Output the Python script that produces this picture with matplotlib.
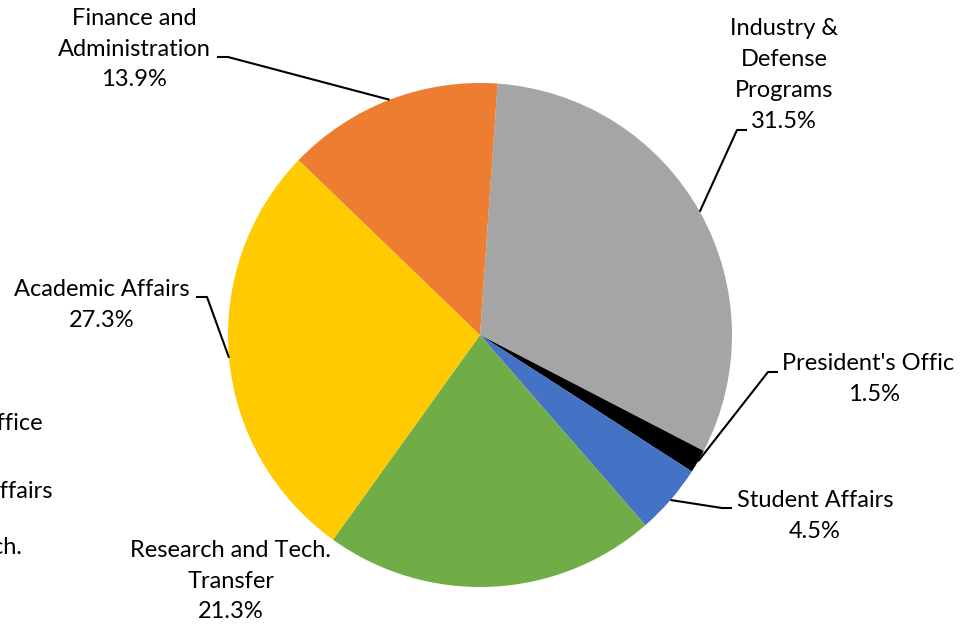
import numpy as np
import matplotlib
matplotlib.use("Agg")
import matplotlib.pyplot as plt
from matplotlib.transforms import Bbox

plt.rcParams['font.family'] = ['Lato', 'DejaVu Sans']

# slice data, clockwise from the top
labels = ["Industry &\nDefense\nPrograms", "President's Office", "Student Affairs",
          "Research and Tech.\nTransfer", "Academic Affairs", "Finance and\nAdministration"]
shares = [31.5, 1.5, 4.5, 21.3, 27.3, 13.9]
colors = ["#A5A5A5", "#000000", "#4472C4", "#70AD47", "#FFCA00", "#ED7D31"]

W, H = 975, 624
fig = plt.figure(figsize=(W / 100, H / 100), dpi=100)
ax = fig.add_axes([0, 0, 1, 1])

cx, cy, r = 480, H - 335, 252
wedges, _ = ax.pie(shares, colors=colors, startangle=86, counterclock=False,
                   center=(cx, cy), radius=r, wedgeprops=dict(linewidth=0))
ax.set_xlim(0, W)
ax.set_ylim(0, H)
ax.set_aspect('equal')
ax.axis('off')

# label block centre (px, y down) and leader elbow points (None = no leader)
label_pos = [(784, 75), (874, 379), (815, 516), (231, 581), (102, 305), (134, 49)]
elbows = [[(737, 130), (747, 130)],
          [(768, 372), (778, 372)],
          [(722, 508), (732, 508)],
          None,
          [(207, 297), (196, 297)],
          [(228, 57), (217, 57)]]

FS = 17
clip = Bbox.from_extents(0, 0, 955, H)
for w, lab, val, pos, elb in zip(wedges, labels, shares, label_pos, elbows):
    mid = np.deg2rad((w.theta1 + w.theta2) / 2)
    if elb is not None:
        xs = [cx + r * np.cos(mid)] + [p[0] for p in elb]
        ys = [cy + r * np.sin(mid)] + [H - p[1] for p in elb]
        ax.plot(xs, ys, color='black', lw=1.5, solid_capstyle='butt')
    t = ax.text(pos[0], H - pos[1], f"{lab}\n{val}%", ha='center', va='center',
                fontsize=FS, linespacing=1.57, color='#000000')
    # the source image is cropped just left of 955 px
    t.set_clip_on(True)
    t.set_clip_box(clip)

# leftover legend text cut off at the left edge
for txt, xr, y in [("President's Office", 43, 424), ("Student Affairs", 52, 491),
                   ("Research and Tech.", 22, 547)]:
    ax.text(xr, H - y, txt, ha='right', va='center', fontsize=FS, color='#000000')

fig.savefig("out.png", dpi=100, facecolor='white')
